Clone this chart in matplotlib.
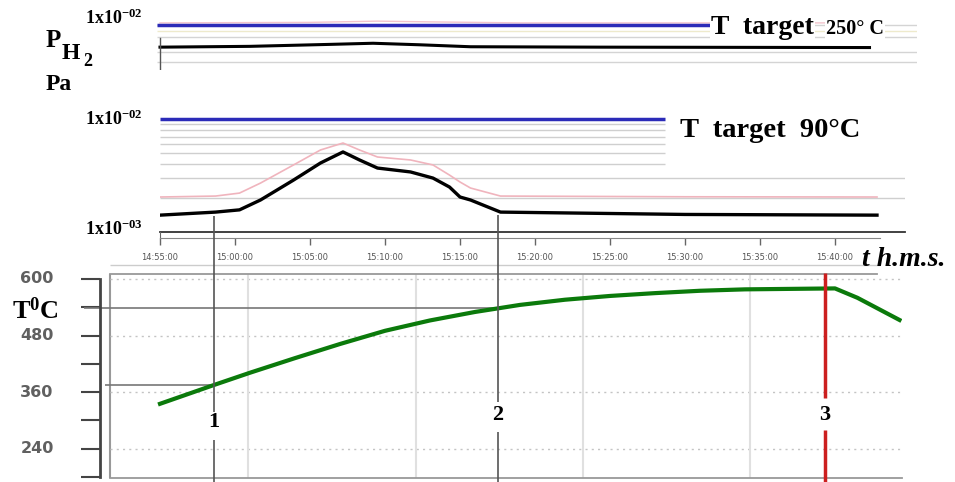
import numpy as np
import matplotlib
matplotlib.use("Agg")
import matplotlib.pyplot as plt
from matplotlib.transforms import blended_transform_factory

plt.rcParams['mathtext.fontset'] = 'custom'
plt.rcParams['mathtext.rm'] = 'Liberation Serif:bold'
plt.rcParams['mathtext.bf'] = 'Liberation Serif:bold'
plt.rcParams['mathtext.it'] = 'Liberation Serif:bold:italic'

# time in minutes after 14:55:00
t_top = [0, 6, 11.3, 14.2, 17.3, 20.7, 29.3, 47.3]
p_top = [6.6e-3, 6.7e-3, 6.95e-3, 7.1e-3, 6.9e-3, 6.65e-3, 6.6e-3, 6.55e-3]
t_top_pink = [0, 10, 14.5, 18, 24, 47.3]
p_top_pink = [1.04e-2, 1.05e-2, 1.075e-2, 1.06e-2, 1.04e-2, 1.04e-2]

t_mid = [0, 3.7, 5.3, 6.7, 8.9, 10.7, 12.2, 13.3, 14.5, 16.7, 18.2, 19.3, 20.0, 20.7, 22.7, 35, 47.8]
p_mid = [1.41e-3, 1.50e-3, 1.57e-3, 1.92e-3, 2.88e-3, 4.08e-3, 5.11e-3, 4.34e-3, 3.68e-3,
         3.40e-3, 3.00e-3, 2.50e-3, 2.04e-3, 1.92e-3, 1.50e-3, 1.43e-3, 1.41e-3]
p_mid_pink = [2.04e-3, 2.08e-3, 2.21e-3, 2.71e-3, 3.92e-3, 5.32e-3, 6.13e-3, 5.32e-3, 4.61e-3,
              4.34e-3, 3.92e-3, 3.19e-3, 2.77e-3, 2.45e-3, 2.08e-3, 2.05e-3, 2.04e-3]

t_temp = [0, 3.6, 6, 9, 12, 15, 18, 21, 24, 27, 30, 33, 36, 39, 42, 45, 46.5, 49.3]
temp = [335, 375, 401, 432, 462, 490, 512, 530, 545, 556, 564, 570, 575, 578, 579, 580, 560, 513]

t_ticks = [0, 5, 10, 15, 20, 25, 30, 35, 40, 45]
t_labels = ['14:55:00', '15:00:00', '15:05:00', '15:10:00', '15:15:00',
            '15:20:00', '15:25:00', '15:30:00', '15:35:00', '15:40:00']
temp_ticks = [180, 240, 300, 360, 420, 480, 540, 600]
temp_labels = [240, 360, 480, 600]
t_grid = [5.87, 17.07, 28.2, 39.33]

t_events = [3.6, 22.5, 44.3]
event_names = ['1', '2', '3']

W, H = 955, 482
fig = plt.figure(figsize=(W / 100, H / 100), dpi=100)


def px_axes(x0, y0, x1, y1, **kw):
    return fig.add_axes([x0 / W, 1 - y1 / H, (x1 - x0) / W, (y1 - y0) / H], **kw)


def mins(px):
    return (px - 160) / 15


def ftext(x, y, s, **kw):
    kw.setdefault('family', 'Liberation Serif')
    kw.setdefault('weight', 'bold')
    return fig.text(x / W, 1 - y / H, s, **kw)


def bare(ax):
    for sp in ax.spines.values():
        sp.set_visible(False)
    ax.tick_params(which='both', left=False, bottom=False, labelleft=False, labelbottom=False)
    ax.patch.set_alpha(0)


# ---- top panel, T target 250 C
ax1 = px_axes(157, 20, 917, 70)
ax1.set_yscale('log')
bare(ax1)
ax1.set_xlim(mins(157), mins(917))
ax1.set_ylim(4.30e-3, 1.098e-2)
ax1.hlines([8e-3, 6e-3, 5e-3, 1e-2], mins(157), mins(917), color='#d4d4d4', lw=1)
ax1.hlines(9e-3, mins(157), mins(917), color='#eeeacc', lw=1)
ax1.plot(t_top_pink, p_top_pink, color='#f2c4cc', lw=1)
ax1.hlines(1e-2, mins(157), mins(710), color='#2b2bb8', lw=2.5)
ax1.plot(t_top, p_top, color='black', lw=2.2)
ax1.axvline(0, ymin=0, ymax=0.64, color='#555555', lw=1)

# ---- middle panel, T target 90 C
ax2 = px_axes(160, 119, 905, 232)
ax2.set_yscale('log')
bare(ax2)
ax2.set_xlim(0, mins(905))
ax2.set_ylim(1e-3, 1e-2)
ax2.hlines([2e-3, 3e-3], 0, mins(905), color='#cfcfcf', lw=1)
ax2.hlines([4e-3, 5e-3, 6e-3, 7e-3, 8e-3, 9e-3], 0, mins(665), color='#cfcfcf', lw=1)
ax2.plot(t_mid, p_mid_pink, color='#f0b4bd', lw=1.2)
ax2.plot(t_mid, p_mid, color='black', lw=2.4)
ax2.hlines(1e-2, 0, mins(665), color='#2b2bb8', lw=2.5, clip_on=False)
ax2.spines['bottom'].set_visible(True)
ax2.spines['bottom'].set_color('#333333')
ax2.spines['bottom'].set_linewidth(1.3)

# time ruler
axr = px_axes(160, 232, 880, 238)
axr.set_xlim(0, mins(880))
axr.set_yticks([])
for k in ['top', 'right']:
    axr.spines[k].set_visible(False)
axr.spines['bottom'].set_color('#888888')
axr.spines['left'].set_color('#666666')
axr.patch.set_alpha(0)
axr.set_xticks(t_ticks)
axr.set_xticklabels(t_labels, fontsize=6, color='#555555', family='DejaVu Sans')
axr.tick_params(axis='x', length=5, width=1, color='#666666', pad=6)

# ---- bottom panel, temperature
ax3 = px_axes(100, 274, 902, 478)
ax3.patch.set_alpha(0)
ax3.set_xlim(mins(100), mins(902))
ax3.set_ylim(177.5, 610.6)
ax3.spines['right'].set_visible(False)
ax3.spines['left'].set_color('#444444')
ax3.spines['left'].set_linewidth(2)
ax3.spines['left'].set_bounds(180, 600)
for k in ['top', 'bottom']:
    ax3.spines[k].set_color('#999999')
    ax3.spines[k].set_linewidth(1.3)
ax3.spines['top'].set_bounds(mins(110), mins(877))
ax3.spines['bottom'].set_bounds(mins(110), mins(902))
ax3.axvline(mins(110), color='#999999', lw=1.5)
ax3.set_xticks([])
ax3.set_yticks(temp_ticks)
ax3.set_yticklabels([''] * len(temp_ticks))
ax3.tick_params(axis='y', length=13.5, width=1.5, color='#444444')
ax3.hlines(temp_labels, mins(110), mins(903), color='#c4c4c4', lw=1, linestyles=(0, (1.5, 3)))
ax3.vlines(t_grid, 177.5, 610.6, color='#e0e0e0', lw=1.5)

T_ev = np.interp(t_events, t_temp, temp)
ax3.hlines(T_ev[1], mins(84), t_events[1], color='#777777', lw=1.2, clip_on=False)
ax3.hlines(T_ev[0], mins(105), t_events[0], color='#777777', lw=1.2, clip_on=False)
ax3.plot(t_temp, temp, color='#0b7a0b', lw=3)

lab_tr = blended_transform_factory(fig.transFigure, ax3.transData)
for v in temp_labels:
    ax3.text(37 / W, v, str(v), transform=lab_tr, ha='center', va='center',
             fontsize=11.5, weight='bold', color='#606060', family='DejaVu Sans')

# ---- overlay for event markers, pixel y
ov = px_axes(0, 0, W, H)
ov.set_xlim(mins(0), mins(W))
ov.set_ylim(H, 0)
ov.axis('off')
ov.patch.set_alpha(0)
ov.hlines(265, mins(110), mins(880), color='#cccccc', lw=1)
y_mid = 232 - 113 * (np.log10(np.interp(t_events[:2], t_mid, p_mid)) + 3) + 4
ov.vlines(t_events[0], y_mid[0], 412, color='#555555', lw=1.2)
ov.vlines(t_events[0], 440, H, color='#555555', lw=1.2)
ov.vlines(t_events[1], y_mid[1], 402, color='#555555', lw=1.2)
ov.vlines(t_events[1], 432, H, color='#555555', lw=1.2)
ov.vlines(t_events[2], 273, 398, color='#cc1f1f', lw=2.5)
ov.vlines(t_events[2], 430, H, color='#cc1f1f', lw=2.5)
for t, name, y in zip(t_events, event_names, [422, 415, 415]):
    ov.text(t, y, name, ha='center', va='center', fontsize=16, weight='bold',
            family='Liberation Serif')

# ---- labels
ftext(85, 24, r'1x10$^{-02}$', fontsize=13, va='baseline')
ftext(85, 125, r'1x10$^{-02}$', fontsize=13, va='baseline')
ftext(85, 235, r'1x10$^{-03}$', fontsize=13, va='baseline')
ftext(46, 47, 'P', fontsize=18, va='baseline')
ftext(62, 59, 'H', fontsize=17, va='baseline')
ftext(83, 66, '2', fontsize=13, va='baseline')
ftext(46, 90, 'Pa', fontsize=17, va='baseline')
ftext(711, 34, 'T  target', fontsize=20, va='baseline',
      bbox=dict(facecolor='white', edgecolor='none', pad=1))
ftext(826, 34, '250° C', fontsize=14.5, va='baseline',
      bbox=dict(facecolor='white', edgecolor='none', pad=1))
ftext(680, 137, 'T  target  90°C', fontsize=20.5, va='baseline')
ftext(862, 266, 't h.m.s.', fontsize=20, va='baseline', style='italic')
ftext(12, 319, r'T$^{0}$C', fontsize=19, va='baseline')

fig.savefig('out.png', dpi=100)
